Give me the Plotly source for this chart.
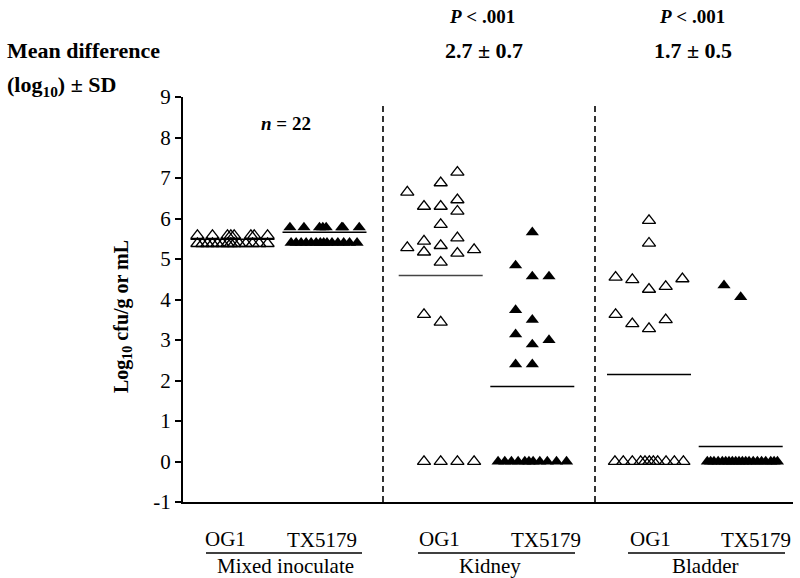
import plotly.graph_objects as go

# ---------------- data ----------------
groups = ["Mixed inoculate", "Kidney", "Bladder"]
strains = ["OG1", "TX5179"]
y_ticks = [-1, 0, 1, 2, 3, 4, 5, 6, 7, 8, 9]
y_tick_text = ["-1", "0", "1", "2", "3", "4", "5", "6", "7", "8", "9"]

# Mixed inoculate
mixed_og1_y = [5.58] * 8 + [5.38] * 14
mixed_og1_slot = [-2.1, -1.2, -0.3, -0.1, 0.1, 1.1, 1.3, 2.1,
                  -2.1, -1.8, -1.5, -1.2, -0.9, -0.6, -0.3, -0.1, 0.1, 0.4, 0.8, 1.2, 1.6, 2.1]
mixed_tx_y = [5.78] * 8 + [5.40] * 14
mixed_tx_slot = [-2.07, -1.23, -0.3, -0.1, 0.1, 1.03, 1.1, 2.08,
                 -2.0, -1.7, -1.4, -1.1, -0.8, -0.5, -0.25, -0.05, 0.15, 0.45, 0.8, 1.15, 1.5, 1.95]

# Kidney
kid_og1_y = [7.14, 6.88, 6.65, 6.30, 6.30, 6.46, 6.18, 5.85, 5.28, 5.44, 5.17,
             5.33, 5.52, 5.14, 5.23, 4.92, 3.63, 3.44, 0, 0, 0, 0]
kid_og1_slot = [1, 0, -2, -1, 0, 1, 1, 0, -2, -1, -1,
                0, 1, 1, 2, 0, -1, 0, -1, 0, 1, 2]
kid_tx_y = [5.66, 4.84, 4.57, 4.57, 3.74, 3.50, 3.14, 2.89, 3.00, 2.40, 2.40] + [0] * 11
kid_tx_slot = [0, -1, 0, 1, -1, 0, -1, 0, 1, -1, 0,
               -2.05, -1.65, -1.25, -0.85, -0.45, -0.2, 0.05, 0.45, 0.9, 1.45, 2.05]

# Bladder
bla_og1_y = [5.95, 5.39, 4.55, 4.49, 4.25, 4.32, 4.51, 3.63, 3.40, 3.28, 3.50] + [0] * 11
bla_og1_slot = [0, 0, -2, -1, 0, 1, 2, -2, -1, 0, 1,
                -2.04, -1.54, -1.0, -0.5, -0.24, 0.02, 0.26, 0.52, 1.02, 1.52, 2.06]
bla_tx_y = [4.35, 4.06] + [0] * 20
bla_tx_slot = [-1, 0, -2.0, -1.8, -1.6, -1.35, -1.1, -0.9, -0.7, -0.5, -0.3, -0.1,
               0.1, 0.3, 0.5, 0.75, 1.0, 1.25, 1.5, 1.8, 2.0, 2.2]

# group means (horizontal bars)
means = [5.49, 5.66, 4.59, 1.85, 2.15, 0.37]
mean_colors = ["#000000", "#000000", "#444444", "#000000", "#000000", "#000000"]

# header statistics
p_values = ["<b><i>P</i> &lt; .001</b>", "<b><i>P</i> &lt; .001</b>"]
mean_diffs = ["<b>2.7 ± 0.7</b>", "<b>1.7 ± 0.5</b>"]
n_label = "<b><i>n</i> = 22</b>"

# ---------------- layout helpers ----------------
# x axis units: 1 unit = 1 px, plot area spans screen px 183..793
centers = [49.5, 141.5, 257.7, 349.3, 466.0, 557.7]
slot_w = 16.7
half_bar = 42

def px(x):   # screen pixel -> paper x
    return (x - 183) / 610.0

def py(y):   # screen pixel -> paper y
    return (502 - y) / 405.0

series = [
    (mixed_og1_y, mixed_og1_slot, True),
    (mixed_tx_y, mixed_tx_slot, False),
    (kid_og1_y, kid_og1_slot, True),
    (kid_tx_y, kid_tx_slot, False),
    (bla_og1_y, bla_og1_slot, True),
    (bla_tx_y, bla_tx_slot, False),
]

FONT = "Liberation Serif"
fig = go.Figure()

for i, (ys, slots, is_open) in enumerate(series):
    xs = [centers[i] + s * slot_w for s in slots]
    fig.add_trace(go.Scatter(
        x=xs, y=ys, mode="markers", cliponaxis=False, showlegend=False,
        marker=dict(symbol="triangle-up-open" if is_open else "triangle-up",
                    size=11.5, color="black",
                    line=dict(color="black", width=1.3 if is_open else 0)),
    ))
    fig.add_trace(go.Scatter(
        x=[centers[i] - half_bar, centers[i] + half_bar], y=[means[i], means[i]],
        mode="lines", line=dict(color=mean_colors[i], width=1.5), showlegend=False,
    ))

# dashed separators
for xv in [200, 412]:
    fig.add_shape(type="line", xref="x", yref="y", x0=xv, x1=xv, y0=-1, y1=8.85,
                  line=dict(color="black", width=1.6, dash="6px,4px"))

annotations = []

def ann(text, x, y, size=18, xanchor="center", **kw):
    annotations.append(dict(text=text, x=px(x), y=py(y), xref="paper", yref="paper",
                            showarrow=False, xanchor=xanchor, yanchor="middle",
                            font=dict(family=FONT, size=size, color="black"), **kw))

# x labels (screen px)
label_x = [(225, 322, 285, 206, 362), (439, 546, 490, 418, 575), (650, 756, 705, 628, 785)]
for g, (xo, xt, xg, u0, u1) in zip(groups, label_x):
    ann(strains[0], xo, 539, size=21)
    ann(strains[1], xt, 540, size=21)
    ann(g, xg, 566, size=21)
    fig.add_shape(type="line", xref="paper", yref="paper", x0=px(u0), x1=px(u1),
                  y0=py(553), y1=py(553), line=dict(color="black", width=1.5))

# header
ann(p_values[0], 482, 16, size=19)
ann(p_values[1], 692, 16, size=19)
ann(mean_diffs[0], 484, 51, size=22)
ann(mean_diffs[1], 693, 51, size=22)
ann("<b>Mean difference</b>", 5, 51, size=22, xanchor="left")
ann("<b>(log<sub>10</sub>) ± SD</b>", 5, 86, size=22, xanchor="left")
ann(n_label, 286, 123, size=19)
ann("<b>Log<sub>10</sub> cfu/g or mL</b>", 122, 317, size=20, textangle=-90)

fig.update_layout(
    width=800, height=578, autosize=False,
    margin=dict(l=183, r=7, t=97, b=76),
    plot_bgcolor="white", paper_bgcolor="white",
    annotations=annotations,
    hovermode=False,
    xaxis=dict(range=[0, 610], showline=True, linecolor="black", linewidth=2.2,
               showticklabels=False, ticks="", showgrid=False, zeroline=False),
    yaxis=dict(range=[-1, 9], tickvals=y_ticks, ticktext=y_tick_text, showline=True,
               linecolor="black", linewidth=2.2, ticks="outside", ticklen=6, tickwidth=2,
               tickcolor="black", showgrid=False, zeroline=False,
               tickfont=dict(family=FONT, size=21, color="black")),
)

# remove the default 8px page margin so the 800x578 figure fills the window exactly
fig.write_html("out.html", config={"displayModeBar": False},
               post_script="document.body.style.margin='0';document.body.style.overflow='hidden';")
